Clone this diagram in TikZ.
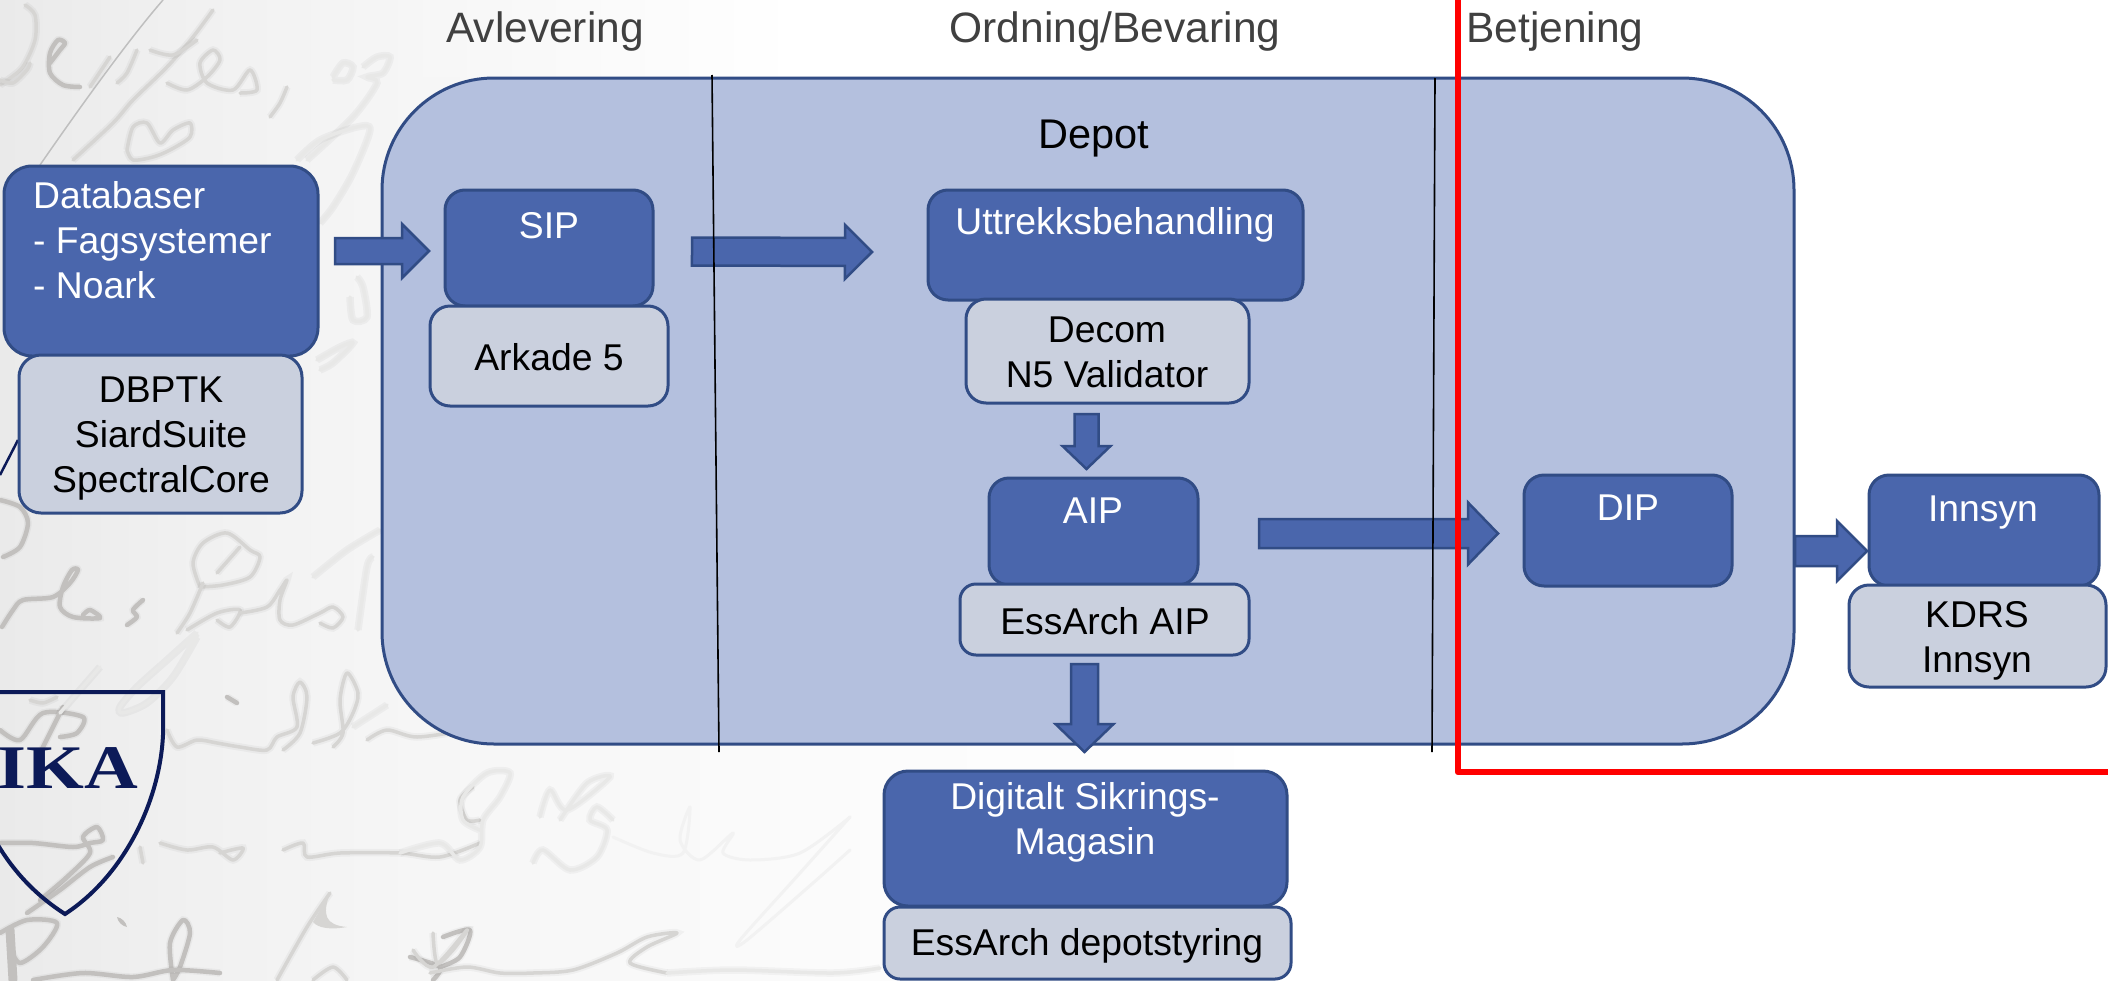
\documentclass[tikz,border=0pt]{standalone}
\usepackage{fontspec}
\setmainfont{Liberation Sans}
\newfontfamily\logofont{Liberation Serif}
\usetikzlibrary{calc}
\definecolor{accentblue}{HTML}{4A66AC}
\definecolor{borderblue}{HTML}{314C85}
\definecolor{paleblue}{HTML}{CAD0DE}
\definecolor{depotblue}{HTML}{B4C0DE}
\definecolor{headgrey}{HTML}{404040}
\definecolor{navy}{HTML}{0C1A58}
\definecolor{inkmid}{HTML}{D6D5D3}
\definecolor{inkdark}{HTML}{C2C0BE}
\definecolor{inkpale}{HTML}{E8E8E7}
\definecolor{inkfaint}{HTML}{F2F2F2}
\tikzset{
  x=1pt,y=-1pt,
  darkbox/.style={draw=borderblue,fill=accentblue,line width=3pt,inner sep=0pt},
  palebox/.style={draw=borderblue,fill=paleblue,line width=3pt,inner sep=0pt},
  whitetxt/.style={text=white,font=\fontsize{37.3}{45}\selectfont,align=center,inner sep=0pt},
  blacktxt/.style={text=black,font=\fontsize{37.3}{45}\selectfont,align=center,inner sep=0pt},
  headtxt/.style={text=headgrey,font=\fontsize{42.5}{50}\selectfont,inner sep=0pt},
  barrowstyle/.style={draw=borderblue,fill=accentblue,line width=2.5pt,line join=miter},
  divider/.style={draw=black,line width=1.6pt},
  halo/.style={preaction={draw=black,draw opacity=.035,line width=7.5pt}},
  inkm/.style={draw=inkmid,line width=3.5pt,line cap=round,line join=round,halo},
  inkd/.style={draw=inkdark,line width=4.5pt,line cap=round,line join=round,halo},
  inkp/.style={draw=inkpale,line width=3.5pt,line cap=round,line join=round,halo},
  inkf/.style={draw=inkfaint,line width=3pt,line cap=round,line join=round},
}
% #1 name, #2 style, #3 x1, #4 y1, #5 x2, #6 y2, #7 radius
\newcommand{\boxat}[7]{%
  \pgfmathsetmacro{\bw}{#5-#3}\pgfmathsetmacro{\bh}{#6-#4}%
  \node[minimum width=\bw pt,minimum height=\bh pt,inner sep=0pt,
        outer sep=0pt] (#1) at ({(#3+#5)/2},{(#4+#6)/2}) {};
  \draw[#2,rounded corners=#7pt] (#3,#4) rectangle (#5,#6);}
% #1 start, #2 tip, #3 half shaft, #4 half head, #5 head length
\newcommand{\blockarrow}[5]{%
  \coordinate (hb) at ($(#2)!#5pt!(#1)$);
  \draw[barrowstyle] ($(#1)!#3pt!90:(#2)$) -- ($(hb)!#3pt!90:(#2)$) -- ($(hb)!#4pt!90:(#2)$)
    -- (#2) -- ($(hb)!#4pt!-90:(#2)$) -- ($(hb)!#3pt!-90:(#2)$) -- ($(#1)!#3pt!-90:(#2)$) -- cycle;}
\newcommand{\scrib}[2]{\draw[#1] plot[smooth] coordinates {#2};}
\begin{document}
\begin{tikzpicture}
\useasboundingbox (0,0) rectangle (2108,980);
% paper background
\definecolor{bgA}{HTML}{EAEAEA}\definecolor{bgD}{HTML}{F1F1F1}\definecolor{bgB}{HTML}{F6F6F6}\definecolor{bgC}{HTML}{FCFCFC}
\shade[left color=bgA,right color=bgD] (0,0) rectangle (200,980);
\shade[left color=bgD,right color=bgB] (200,0) rectangle (420,980);
\shade[left color=bgB,right color=bgC] (420,0) rectangle (900,980);
\shade[left color=bgC,right color=white] (900,0) rectangle (1300,980);
\fill[white] (1300,0) rectangle (2108,980);
\shade[left color=bgB,right color=white] (400,0) rectangle (800,76);
\fill[white] (800,0) rectangle (1300,76);
% handwriting, upper left
\scrib{inkm}{(25,5)(35,15)(35,40)(22,68)(0,85)}
\scrib{inkm}{(0,80)(13,83)(27,70)(30,63)}
\scrib{inkd}{(50,63)(60,50)(65,43)(58,40)(50,53)(50,73)(63,85)(80,87)}
\scrib{inkm}{(90,87)(110,57)}
\scrib{inkm}{(213,10)(193,37)(167,67)(133,100)(113,123)(73,160)}
\scrib{inkm}{(150,50)(173,55)(197,40)}
\scrib{inkm}{(117,83)(127,73)(137,50)}
\scrib{inkm}{(167,83)(187,90)(207,77)(220,60)(213,50)(200,63)(207,83)(233,90)(250,70)(257,90)(240,93)}
\scrib{inkm}{(287,87)(280,103)(270,117)}
\scrib{inkp}{(333,77)(343,63)(353,67)(347,80)(333,80)}
\scrib{inkp}{(363,67)(377,57)(390,57)(383,73)(367,77)(377,83)(353,117)(307,160)}
\scrib{inkm}{(127,150)(133,127)(147,123)(160,143)(173,130)(190,123)(190,137)(170,150)(153,157)(133,160)(127,150)}
\scrib{inkp}{(297,160)(320,140)(357,127)(370,130)(353,173)(333,207)(320,223)}
\scrib{inkp}{(357,277)(363,287)(367,317)(353,320)(350,297)}
\scrib{inkp}{(317,360)(340,347)(353,343)(333,363)(320,370)}
% handwriting, middle left
\scrib{inkd}{(0,500)(20,507)(28,523)(20,547)(3,557)}
\scrib{inkd}{(2,627)(13,610)(23,600)(53,597)(70,583)(78,570)(72,570)(63,587)(60,607)(73,617)(100,618)(90,610)(83,615)}
\scrib{inkd}{(143,600)(133,610)(137,617)(127,625)}
\scrib{inkm}{(200,587)(193,563)(203,543)(227,533)(250,550)(260,557)(250,577)(223,585)(200,587)}
\scrib{inkm}{(217,573)(240,547)}
\scrib{inkm}{(203,583)(190,613)(177,633)}
\scrib{inkm}{(187,630)(217,613)(240,610)(230,627)(217,620)}
\scrib{inkp}{(197,633)(167,660)(137,687)(120,707)(123,713)(147,703)(173,677)(197,637)}
\scrib{inkm}{(240,613)(267,607)(280,590)(287,580)(280,600)(280,620)(293,625)(320,613)(333,607)(343,617)(333,628)(320,623)}
\scrib{inkp}{(313,577)(347,550)(380,530)}
\scrib{inkp}{(358,630)(367,567)(373,557)}
\scrib{inkm}{(167,730)(177,747)(197,740)(217,743)(240,747)(267,750)(277,737)(297,727)(293,697)(300,682)(307,697)(300,733)(283,750)}
\scrib{inkm}{(313,743)(340,733)(353,713)(358,693)(347,673)(340,700)(343,733)(333,747)}
\scrib{inkm}{(367,740)(387,730)(417,737)(467,730)}
\scrib{inkp}{(387,705)(353,727)}
\scrib{inkd}{(227,697)(237,703)}
% handwriting under and inside the shield
\scrib{inkd}{(0,730)(20,740)(43,713)(83,717)(77,733)(60,737)}
\scrib{inkm}{(30,700)(43,703)(57,697)}
\scrib{inkd}{(63,707)(40,753)}
\scrib{inkp}{(100,667)(60,713)}
\scrib{inkd}{(0,843)(33,843)(73,847)(90,843)(103,840)(97,827)(83,837)(90,853)(67,877)(40,900)}
\scrib{inkm}{(140,847)(143,863)}
\scrib{inkm}{(160,843)(187,850)(213,847)(233,860)(243,848)(220,853)}
\scrib{inkd}{(113,857)(90,867)(60,890)(27,913)}
\scrib{inkm}{(283,850)(303,843)(307,857)(340,853)(400,853)(440,857)(480,843)}
\scrib{inkm}{(473,787)(460,800)(467,820)(480,820)}
% handwriting, bottom
\scrib{inkd}{(0,933)(27,920)(57,923)(43,947)(20,963)(10,947)}
\draw[inkdark,line width=9pt,line cap=round] (10,930) -- (13,980);
\scrib{inkd}{(173,980)(170,943)(183,920)(190,933)(180,967)(173,980)}
\scrib{inkd}{(33,980)(83,973)(133,977)(173,970)(220,973)}
\scrib{inkm}{(330,893)(307,927)(277,980)}
\fill[inkmid] (330,893) .. controls (322,915) and (325,925) .. (347,927) .. controls (330,930) and (318,928) .. (313,922) -- cycle;
\fill[inkdark] (117,917) .. controls (122,918) and (126,922) .. (127,927) .. controls (122,926) and (118,922) .. (117,917) -- cycle;
\scrib{inkm}{(313,980)(333,967)(347,980)}
\scrib{inkd}{(410,957)(440,967)(433,980)}
\scrib{inkd}{(443,937)(470,930)(460,957)(440,967)}
% handwriting, lower middle
\scrib{inkp}{(400,853)(440,843)(460,860)(480,847)(483,820)(500,797)(510,773)(487,773)(463,797)(463,820)(480,830)}
\scrib{inkp}{(533,863)(543,850)(570,870)(597,857)(607,830)(590,820)(597,807)(613,820)}
\scrib{inkp}{(540,817)(550,790)(567,810)(610,777)(587,783)(560,820)}
\scrib{inkf}{(613,837)(653,853)(683,853)(690,807)(680,840)(700,860)(733,833)(723,853)(750,860)(800,853)(850,817)}
\scrib{inkf}{(850,817)(800,873)(740,940)(747,940)(813,883)(850,850)}
\scrib{inkm}{(413,950)(433,967)(467,930)(453,950)(437,963)(433,933)}
\scrib{inkm}{(430,973)(467,967)(500,973)(533,973)(573,970)(617,953)(647,937)(677,933)(647,947)(630,963)(667,973)}
\scrib{inkp}{(667,973)(733,970)(833,973)(880,968)}
% thin arcs of the slide master
\draw[draw=black!25,line width=1.5pt] (163,0) .. controls (130,38) and (85,100) .. (40,165);
\draw[navy,line width=2.5pt] (0,475) -- (18,440);
% logo shield
\draw[navy,line width=4pt,line join=miter] (-5,692) -- (163,692) -- (163,735) .. controls (160,800) and (125,875) .. (65,914) .. controls (40,898) and (15,875) .. (-5,840);
\node[text=navy,font=\logofont\bfseries\fontsize{62}{62}\selectfont,anchor=east,inner sep=0pt,xscale=1.2] (logo) at (138,768) {IKA};
% depot
\boxat{depot}{draw=borderblue,fill=depotblue,line width=3pt}{382}{78}{1794}{744}{112}
% headings
\node[headtxt] (hAv) at (545,32) {Avlevering};
\node[headtxt] (hOrd) at (1115,32) {Ordning/Bevaring};
\node[headtxt] (hBet) at (1555,32) {Betjening};
\node[text=black,font=\fontsize{41.5}{50}\selectfont,inner sep=0pt] (depotlbl) at (1094,139) {Depot};
% boxes
\boxat{db}{darkbox}{4}{166}{318}{356}{28}
\boxat{dbtools}{palebox}{19}{355}{302}{513}{22}
\boxat{sip}{darkbox}{445}{190}{653}{306}{20}
\boxat{arkade}{palebox}{430}{306}{668}{406}{20}
\boxat{utt}{darkbox}{928}{190}{1303}{300}{20}
\boxat{decom}{palebox}{966}{299}{1249}{403}{20}
\boxat{aip}{darkbox}{989}{478}{1198}{585}{20}
\boxat{essaip}{palebox}{960}{584}{1249}{655}{16}
\boxat{dip}{darkbox}{1524}{475}{1732}{586}{20}
\boxat{inn}{darkbox}{1869}{475}{2099}{586}{20}
\boxat{kdrs}{palebox}{1849}{585}{2106}{687}{20}
\boxat{dsm}{darkbox}{884}{771}{1287}{906}{24}
\boxat{essdep}{palebox}{884}{907}{1291}{979}{16}
% texts
\node[whitetxt,align=left,anchor=west] (tdb) at (33,240) {Databaser\\- Fagsystemer\\- Noark};
\node[blacktxt] (ttools) at (161,439) {DBPTK\\SiardSuite\\SpectralCore};
\node[whitetxt] (tsip) at (549,226) {SIP};
\node[blacktxt] (tark) at (549,357) {Arkade 5};
\node[whitetxt] (tutt) at (1115,225) {Uttrekksbehandling};
\node[blacktxt] (tdec) at (1107,352) {Decom\\N5 Validator};
\node[whitetxt] (taip) at (1093,511) {AIP};
\node[blacktxt] (tess) at (1105,621) {EssArch AIP};
\node[whitetxt] (tdip) at (1628,508) {DIP};
\node[whitetxt] (tinn) at (1983,513) {Innsyn};
\node[blacktxt] (tkd) at (1977,641) {KDRS\\Innsyn};
\node[whitetxt] (tdsm) at (1085,822) {Digitalt Sikrings-\\Magasin};
\node[blacktxt] (tedp) at (1087,946) {EssArch depotstyring};
% block arrows
\coordinate (a1s) at ($(db.east)+(17,-10)$);  \coordinate (a1e) at ($(sip.west)+(-16,3)$);
\coordinate (a2s) at ($(arkade.east)+(24,-104.5)$); \coordinate (a2e) at ($(utt.west)+(-56,7)$);
\coordinate (a3s) at ($(decom.south)+(-21,11)$);  \coordinate (a3e) at ($(aip.north)+(-7,-9)$);
\coordinate (a4s) at ($(essaip.south)+(-20,9)$);  \coordinate (a4e) at ($(dsm.north)+(-1,-19)$);
\coordinate (a5s) at ($(aip.east)+(61,2)$);   \coordinate (a5e) at ($(dip.west)+(-26,3)$);
\coordinate (a6s) at ($(depot.east)+(1,140)$); \coordinate (a6e) at ($(inn.west)+(-2,20.5)$);
\blockarrow{a1s}{a1e}{13}{27}{27}
\blockarrow{a2s}{a2e}{14}{27}{27}
\blockarrow{a3s}{a3e}{12}{24}{23}
\blockarrow{a4s}{a4e}{13.5}{29}{28}
\blockarrow{a5s}{a5e}{14.5}{31}{30}
\blockarrow{a6s}{a6e}{15}{30}{30}
% dividers
\draw[divider] (712,75) -- (719,752);
\draw[divider] (1435,78) -- (1432,752);
% red frame
\draw[red,line width=6.5pt,line join=round] (1458,-5) -- (1458,772) -- (2115,772);
\end{tikzpicture}
\end{document}
